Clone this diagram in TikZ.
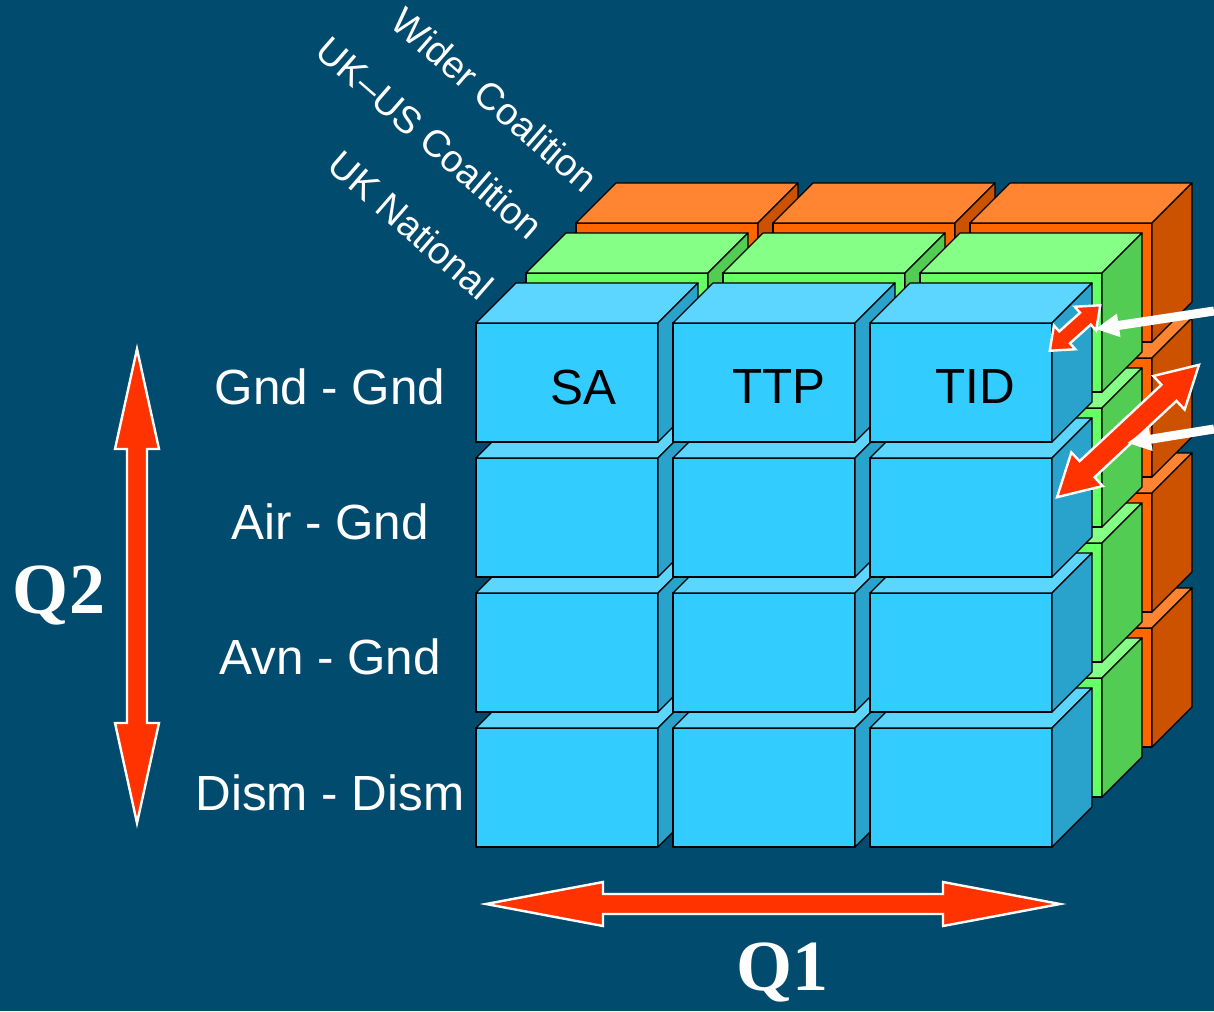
\documentclass[tikz,border=0pt]{standalone}
\usepackage{fontspec}
\setmainfont{Liberation Sans}
\newfontfamily\qserif{Liberation Serif}
\usepackage{xcolor}
\usepackage{tikz}
\usetikzlibrary{arrows.meta,positioning}

\definecolor{bgblue}{HTML}{004B6E}
\definecolor{bluefront}{HTML}{33CCFF}
\definecolor{bluetop}{HTML}{5CD6FF}
\definecolor{blueside}{HTML}{29A3CC}
\definecolor{greenfront}{HTML}{66FF66}
\definecolor{greentop}{HTML}{85FF85}
\definecolor{greenside}{HTML}{52CC52}
\definecolor{orangefront}{HTML}{FF6600}
\definecolor{orangetop}{HTML}{FF8533}
\definecolor{orangeside}{HTML}{CC5200}
\definecolor{arrowred}{HTML}{FF3300}

% one box: front top-left corner (x,y), colour prefix
\newcommand{\cubebox}[3]{%
  \filldraw[fill=#3front, cubeline] (#1,#2) rectangle ++(182,119);
  \filldraw[fill=#3top, cubeline] (#1,#2) -- ++(40,-40) -- ++(182,0) -- ++(-40,40) -- cycle;
  \filldraw[fill=#3side, cubeline] (#1+182,#2) -- ++(40,-40) -- ++(0,119) -- ++(-40,40) -- cycle;
}
% double arrow: centre, angle, half length, shaft half width, head half width, head length
\newcommand{\fatarrow}[6]{%
  \begin{scope}[shift={#1}, rotate=#2]
    \filldraw[fatpaint] (-#3,0) -- (-#3+#6,#5) -- (-#3+#6,#4) -- (#3-#6,#4) -- (#3-#6,#5)
      -- (#3,0) -- (#3-#6,-#5) -- (#3-#6,-#4) -- (-#3+#6,-#4) -- (-#3+#6,-#5) -- cycle;
  \end{scope}
}

\begin{document}
\begin{tikzpicture}[x=0.5pt, y=-0.5pt,
    cubeline/.style={draw=black, line width=0.6pt, line join=round},
    fatpaint/.style={fill=arrowred, draw=white, line width=1.2pt},
    rowlabel/.style={text=white, font=\fontsize{24.7}{28}\selectfont},
    celltext/.style={text=black, font=\fontsize{24.7}{28}\selectfont},
    layerlabel/.style={text=white, rotate=-41, font=\fontsize{19}{22}\selectfont},
    qlabel/.style={text=white, font=\qserif\bfseries\fontsize{36}{40}\selectfont},
    pointer/.style={draw=white, line width=4.5pt, -{Triangle[width=11pt,length=12pt]}}]

    \fill[bgblue] (0,0) rectangle (1214,1011);
    \useasboundingbox (0,0) rectangle (1214,1011);

    % layers back to front
    \foreach \layer/\off in {orange/100, green/50, blue/0} {
        \foreach \row in {3,2,1,0} {
            \foreach \col in {0,1,2} {
                \pgfmathsetmacro{\cx}{476+197*\col+\off}
                \pgfmathsetmacro{\cy}{323+135*\row-\off}
                \cubebox{\cx}{\cy}{\layer}
            }
        }
    }

    \node (sa) [celltext] at (583,387) {SA};
    \node (ttp) [celltext] at (779,387) {TTP};
    \node (tid) [celltext] at (975,387) {TID};

    \node (gndgnd) [rowlabel] at (330,387) {Gnd - Gnd};
    \node (airgnd) [rowlabel] at (330,522) {Air - Gnd};
    \node (avngnd) [rowlabel] at (330,657) {Avn - Gnd};
    \node (dismdism) [rowlabel] at (330,793) {Dism - Dism};

    \node (wider) [layerlabel] at (495,100) {Wider Coalition};
    \node (ukus) [layerlabel] at (430,138) {UK–US Coalition};
    \node (uknat) [layerlabel] at (411,225) {UK National};

    \fatarrow{(137,586)}{90}{237}{10}{22}{100}
    \fatarrow{(773,904)}{0}{287}{10}{22}{117}
    \fatarrow{(1075,328)}{42}{34}{8}{16}{20}
    \fatarrow{(1128,431)}{43}{97}{11}{23}{41}

    \node (q2) [qlabel] at (59,595) {Q2};
    \node (q1) [qlabel] at (782,972) {Q1};

    \coordinate (tailone) at (1214,311);
    \coordinate (tipone) at (1095,329);
    \coordinate (tailtwo) at (1214,429);
    \coordinate (tiptwo) at (1127,443);
    \draw[pointer] (tailone) -- (tipone);
    \draw[pointer] (tailtwo) -- (tiptwo);
\end{tikzpicture}
\end{document}
